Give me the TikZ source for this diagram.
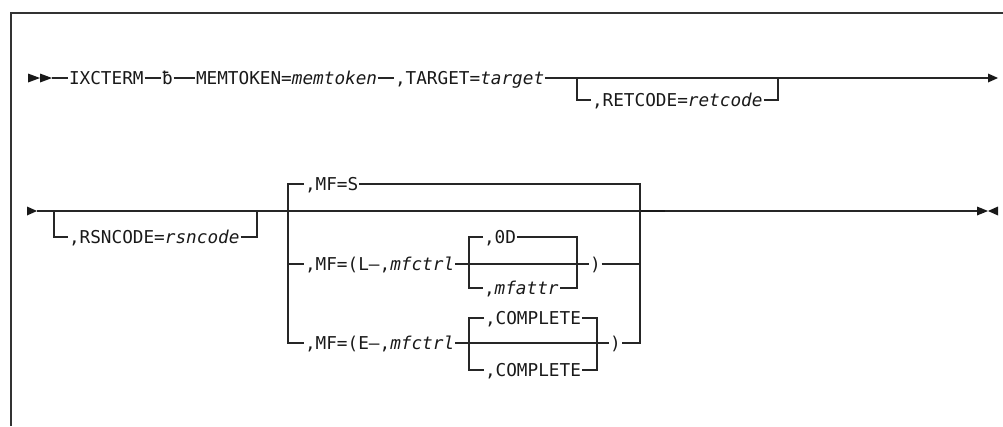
\documentclass[tikz,border=0pt]{standalone}
\usepackage{fontspec}
\newfontfamily\mono{DejaVu Sans Mono}
\begin{document}
\begin{tikzpicture}[x=1pt,y=-1pt,
  ln/.style={line width=1.3pt, draw=black!85},
  t/.style={inner xsep=0.8pt, inner ysep=0pt, text height=12.9pt, text depth=0pt,
    anchor=west, font=\mono\fontsize{17.7}{20}\selectfont, text=black!90},
  tip/.style={fill=black!90}
]
\useasboundingbox (0,0) rectangle (1003,426);
% frame
\draw[line width=1.8pt, black!80] (11,426) -- (11,13) -- (1003,13);

% ---------- row 1 ----------
\coordinate (s1) at (52,78);
\fill[tip] (28,73.5) -- (40,78) -- (28,82.5) -- cycle;
\fill[tip] (40,73.5) -- (52,78) -- (40,82.5) -- cycle;
\node[t] (ixc) at (68,78) {IXCTERM};
\node[t] (blk) at (161,78) {ƀ};
\node[t] (mem) at (195,78) {MEMTOKEN=\textit{memtoken}};
\node[t] (tgt) at (394,78) {,TARGET=\textit{target}};
\coordinate (e1) at (988,78);
\draw[ln] (s1) -- (ixc) -- (blk) -- (mem) -- (tgt) -- (e1);
\fill[tip] (988,73.5) -- (998,78) -- (988,82.5) -- cycle;

\coordinate (r1) at (577,78);
\coordinate (r2) at (778,78);
\node[t] (ret) at (591,100) {,RETCODE=\textit{retcode}};
\draw[ln] (r1) |- (ret);
\draw[ln] (ret) -| (r2);

% ---------- row 2 ----------
\coordinate (s2) at (37,211);
\fill[tip] (27,206.5) -- (37,211) -- (27,215.5) -- cycle;
\coordinate (q1) at (54,211);
\coordinate (q2) at (257,211);
\node[t] (rsn) at (68,237) {,RSNCODE=\textit{rsncode}};
\draw[ln] (q1) |- (rsn);
\draw[ln] (rsn) -| (q2);

\coordinate (m2) at (640,211);
\coordinate (m3) at (665,211);
\coordinate (e2) at (977,211);
\draw[ln] (s2) -- (e2);
\draw[line width=2.2pt, black!90] (m2) -- (m3);
\fill[tip] (977,206.5) -- (988,211) -- (977,215.5) -- cycle;
\fill[tip] (998,206.5) -- (988,211) -- (998,215.5) -- cycle;

% MF group
\coordinate (mTL) at (288,184);
\coordinate (mBL) at (288,343);
\coordinate (mTR) at (640,184);
\coordinate (mBR) at (640,343);
\coordinate (mLl) at (288,264);
\coordinate (mLr) at (640,264);
\node[t] (mfs) at (304,184) {,MF=S};
\node[t] (mfl) at (304,264) {,MF=(L–,\textit{mfctrl}};
\node[t] (mfe) at (304,343) {,MF=(E–,\textit{mfctrl}};
\node[t] (rpl) at (589,264) {)};
\node[t] (rpe) at (609,343) {)};
\draw[ln] (mfs) -- (mTL) -- (mBL) -- (mfe);
\draw[ln] (mfs) -- (mTR) -- (mBR) -- (rpe);
\draw[ln] (mLl) -- (mfl);
\draw[ln] (mfl) -- (rpl) -- (mLr);
\draw[ln] (mfe) -- (rpe);

% inner L group
\coordinate (ilT) at (469,237);
\coordinate (ilB) at (469,288);
\coordinate (irT) at (577,237);
\coordinate (irB) at (577,288);
\node[t] (od) at (483,237) {,0D};
\node[t] (mfa) at (483,288) {,\textit{mfattr}};
\draw[ln] (od) -- (ilT) -- (ilB) -- (mfa);
\draw[ln] (od) -- (irT) -- (irB) -- (mfa);

% inner E group
\coordinate (ieTL) at (469,318);
\coordinate (ieBL) at (469,370);
\coordinate (ieTR) at (597,318);
\coordinate (ieBR) at (597,370);
\node[t] (c1) at (484,318) {,COMPLETE};
\node[t] (c2) at (484,370) {,COMPLETE};
\draw[ln] (c1) -- (ieTL) -- (ieBL) -- (c2);
\draw[ln] (c1) -- (ieTR) -- (ieBR) -- (c2);
\end{tikzpicture}
\end{document}
